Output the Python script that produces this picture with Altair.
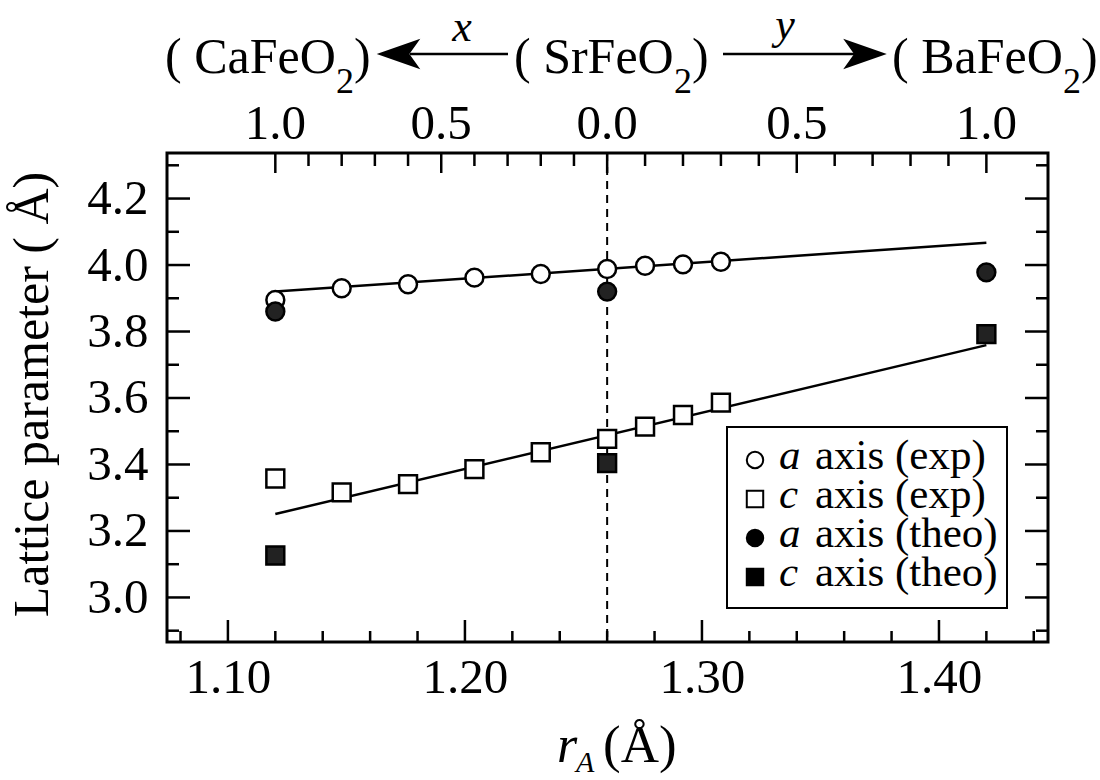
import altair as alt
import pandas as pd

FONT = "Liberation Serif"

# A-site ionic radii (Å)
r_ca, r_sr, r_ba = 1.12, 1.26, 1.42

# experimental lattice parameters: Sr1-xCaxFeO2 (x = 1.0 ... 0.0), Sr1-yBayFeO2 (y = 0.1 ... 0.3)
r_exp = [1.12, 1.148, 1.176, 1.204, 1.232, 1.26, 1.276, 1.292, 1.308]
a_exp = [3.895, 3.930, 3.942, 3.962, 3.973, 3.988, 3.998, 4.002, 4.010]
c_exp = [3.358, 3.316, 3.341, 3.386, 3.437, 3.477, 3.514, 3.549, 3.586]

# calculated lattice parameters for CaFeO2, SrFeO2, BaFeO2
r_theo = [1.12, 1.26, 1.42]
a_theo = [3.860, 3.920, 3.978]
c_theo = [3.126, 3.404, 3.792]

# linear fits through the experimental data
r_fit = [1.12, 1.42]
a_fit = [3.920, 4.067]
c_fit = [3.251, 3.759]

# axis ticks
x_major = [1.10, 1.20, 1.30, 1.40]
x_minor = [1.08, 1.12, 1.14, 1.16, 1.18, 1.22, 1.24, 1.26, 1.28,
           1.32, 1.34, 1.36, 1.38, 1.42, 1.44]
y_major = [3.0, 3.2, 3.4, 3.6, 3.8, 4.0, 4.2]
y_minor = [2.9, 3.1, 3.3, 3.5, 3.7, 3.9, 4.1, 4.3]
frac_ticks = [0.0, 0.1, 0.2, 0.3, 0.4, 0.5, 0.6, 0.7, 0.8, 0.9, 1.0]
frac_major = [0.0, 0.5, 1.0]
frac_labels = [1.0, 0.5, 0.0, 0.5, 1.0]
frac_label_side = ["Ca", "Ca", "Sr", "Ba", "Ba"]

W, H = 881, 489
xs = alt.Scale(domain=[1.0743, 1.4460], nice=False, zero=False)
ys = alt.Scale(domain=[2.866, 4.337], nice=False, zero=False)

x_axis = alt.Axis(values=x_major, format=".2f", ticks=False, tickSize=0, domain=False,
                  grid=False, labelFont=FONT, labelFontSize=49, labelColor="black",
                  labelPadding=11, title=None)
y_axis = alt.Axis(values=y_major, format=".1f", ticks=False, tickSize=0, domain=False,
                  grid=False, labelFont=FONT, labelFontSize=49, labelColor="black",
                  labelPadding=19, title="Lattice parameter ( Å)", titleFont=FONT,
                  titleFontSize=50, titleFontWeight="normal", titleColor="black",
                  titleX=-120, titleY=241, titleAngle=270, titleAlign="center",
                  titleBaseline="alphabetic")


def X(field):
    return alt.X(f"{field}:Q", scale=xs, axis=x_axis)


def Y(field):
    return alt.Y(f"{field}:Q", scale=ys, axis=y_axis)


def frac_to_r(f, end):
    return r_sr + f * (end - r_sr)


one = pd.DataFrame({"k": [0]})


def label(text, x, y, size, italic=False, align="left", baseline="alphabetic"):
    return alt.Chart(one).mark_text(
        text=text, font=FONT, fontSize=size, fontStyle="italic" if italic else "normal",
        align=align, baseline=baseline, color="black"
    ).encode(x=alt.value(x), y=alt.value(y))


layers = []

# dashed guide at SrFeO2
layers.append(
    alt.Chart(pd.DataFrame({"r": [r_sr]})).mark_rule(color="black", strokeWidth=2, strokeDash=[8, 6])
    .encode(x=X("r"), y=alt.value(0), y2=alt.value(H))
)

# fit lines
fit = pd.DataFrame({"r": r_fit, "a": a_fit, "c": c_fit})
for col in ["a", "c"]:
    layers.append(alt.Chart(fit).mark_line(color="black", strokeWidth=2.5).encode(x=X("r"), y=Y(col)))

# data points
exp = pd.DataFrame({"r": r_exp, "a": a_exp, "c": c_exp})
theo = pd.DataFrame({"r": r_theo, "a": a_theo, "c": c_theo})
for df, col, shape, fill in [(exp, "a", "circle", "white"), (exp, "c", "square", "white"),
                             (theo, "a", "circle", "#222222"), (theo, "c", "square", "#222222")]:
    layers.append(
        alt.Chart(df).mark_point(shape=shape, size=320, fill=fill, stroke="black",
                                 strokeWidth=2.5, opacity=1, fillOpacity=1)
        .encode(x=X("r"), y=Y(col))
    )

# inward ticks: bottom, left, right
tick_style = dict(color="black", strokeWidth=2.5)
layers.append(alt.Chart(pd.DataFrame({"r": x_major})).mark_rule(**tick_style)
              .encode(x=X("r"), y=alt.value(H - 22), y2=alt.value(H)))
layers.append(alt.Chart(pd.DataFrame({"r": x_minor})).mark_rule(**tick_style)
              .encode(x=X("r"), y=alt.value(H - 11), y2=alt.value(H)))
for x0, x1, vals in [(0, 23, y_major), (0, 12, y_minor), (W - 23, W, y_major), (W - 12, W, y_minor)]:
    layers.append(alt.Chart(pd.DataFrame({"v": vals})).mark_rule(**tick_style)
                  .encode(y=Y("v"), x=alt.value(x0), x2=alt.value(x1)))

# top composition axis (x toward CaFeO2, y toward BaFeO2)
top = []
for f in frac_ticks:
    top.append({"r": frac_to_r(f, r_ca), "major": f in frac_major})
    if f > 0:
        top.append({"r": frac_to_r(f, r_ba), "major": f in frac_major})
top = pd.DataFrame(top)
layers.append(alt.Chart(top[top.major]).mark_rule(**tick_style)
              .encode(x=X("r"), y=alt.value(0), y2=alt.value(20)))
layers.append(alt.Chart(top[~top.major]).mark_rule(**tick_style)
              .encode(x=X("r"), y=alt.value(0), y2=alt.value(13)))
ends = {"Ca": r_ca, "Sr": r_sr, "Ba": r_ba}
top_lab = pd.DataFrame({
    "r": [frac_to_r(f, ends[s]) for f, s in zip(frac_labels, frac_label_side)],
    "t": [f"{f:.1f}" for f in frac_labels],
})
layers.append(alt.Chart(top_lab).mark_text(font=FONT, fontSize=49, color="black",
                                           align="center", baseline="alphabetic")
              .encode(x=X("r"), y=alt.value(-14), text="t:N"))

# compound labels with arrows
HB = -80  # baseline of the compound names
for name, x0, w in [("( CaFeO", -2, 171), ("( SrFeO", 347, 160), ("( BaFeO", 725, 171)]:
    layers.append(label(name, x0, HB, 50))
    layers.append(label("2", x0 + w, HB + 20, 36))
    layers.append(label(")", x0 + w + 18, HB + 20 - 20, 50))
layers.append(label("x", 295, -112, 44, italic=True, align="center"))
layers.append(label("y", 618, -114, 44, italic=True, align="center"))

AY = -99  # arrow height
arrow_left = "M -1 0 L 1 -0.7 L 0.5 0 L 1 0.7 Z"
arrow_right = "M 1 0 L -1 -0.7 L -0.5 0 L -1 0.7 Z"
layers.append(alt.Chart(one).mark_rule(color="black", strokeWidth=2.5)
              .encode(x=alt.value(243), x2=alt.value(341), y=alt.value(AY)))
layers.append(alt.Chart(one).mark_rule(color="black", strokeWidth=2.5)
              .encode(x=alt.value(556), x2=alt.value(688), y=alt.value(AY)))
layers.append(alt.Chart(one).mark_point(shape=arrow_left, size=1900, fill="black",
                                        filled=True, opacity=1)
              .encode(x=alt.value(231.5), y=alt.value(AY)))
layers.append(alt.Chart(one).mark_point(shape=arrow_right, size=1900, fill="black",
                                        filled=True, opacity=1)
              .encode(x=alt.value(698), y=alt.value(AY)))

# x axis title: r_A (Å)
layers.append(label("r", 390, 609, 52, italic=True))
layers.append(label("A", 409, 619, 30, italic=True))
layers.append(label("(Å)", 436, 609, 53))

# legend
layers.append(alt.Chart(one).mark_rect(fill="white", stroke="black", strokeWidth=2)
              .encode(x=alt.value(560), x2=alt.value(840), y=alt.value(274), y2=alt.value(455)))
legend_items = [("a", "axis (exp)", "circle", "white"),
                ("c", "axis (exp)", "square", "white"),
                ("a", "axis (theo)", "circle", "black"),
                ("c", "axis (theo)", "square", "black")]
for i, (letter, rest, shape, fill) in enumerate(legend_items):
    cy = 307 + 39 * i
    layers.append(alt.Chart(one).mark_point(shape=shape, size=270, fill=fill, stroke="black",
                                            strokeWidth=2, opacity=1, fillOpacity=1)
                  .encode(x=alt.value(588), y=alt.value(cy)))
    layers.append(label(letter, 612, cy + 9, 43, italic=True))
    layers.append(label(rest, 648, cy + 9, 43))

chart = alt.layer(*layers).properties(
    width=W, height=H,
    padding={"left": 167, "top": 153, "right": 52, "bottom": 138},
    autosize=alt.AutoSizeParams(type="none"),
    background="white",
).configure_view(stroke="black", strokeWidth=3)

chart.save("out.html", embed_options={"renderer": "svg", "actions": False})
